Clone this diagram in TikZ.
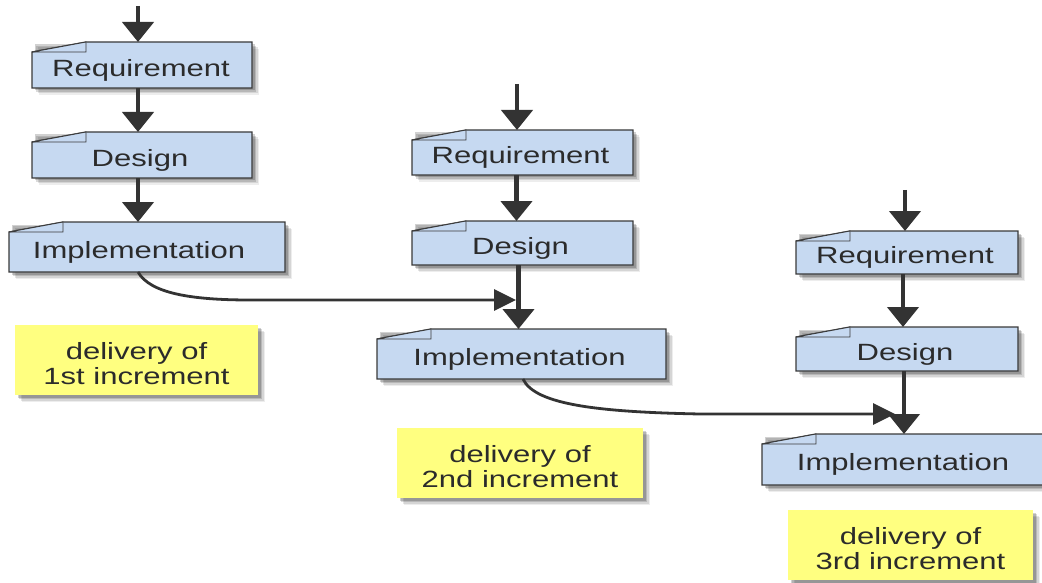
\documentclass[tikz,border=0pt]{standalone}
\usepackage{fontspec}
\setmainfont{Liberation Sans}[FakeStretch=1.32]
\usetikzlibrary{arrows.meta,backgrounds,calc}
\definecolor{boxfill}{HTML}{C6D9F1}
\definecolor{boxline}{HTML}{3A3A3A}
\definecolor{notefill}{HTML}{FFFF80}
\definecolor{arrowc}{HTML}{333333}
\definecolor{txt}{HTML}{2B2B2B}
\newcommand\softshadow[1]{%
  \foreach \d/\o in {7/0.07,5.5/0.1,4/0.14,2.5/0.18}{%
    \fill[black,opacity=\o] ($(#1.south west)+(\d pt,-\d pt)$) rectangle ($(#1.north east)+(\d pt,-\d pt)$);}}
\newcommand\foldframe[1]{%
  \path[fill=boxfill, draw=boxline, line width=1.3pt]
    ($(#1.north west)+(0pt,-10pt)$) -- ($(#1.north west)+(54pt,0pt)$) -- (#1.north east) -- (#1.south east) -- (#1.south west) -- cycle;
  \draw[boxline, line width=0.9pt, fill=boxfill]
    ($(#1.north west)+(0pt,-10pt)$) -- ($(#1.north west)+(54pt,-10pt)$) -- ($(#1.north west)+(54pt,0pt)$) -- cycle;}
\tikzset{
  stage/.style={rectangle, draw=none, outer sep=0pt, inner sep=0pt, anchor=north west, text=txt,
    font=\fontsize{23.5pt}{24pt}\selectfont},
  note/.style={rectangle, draw=none, fill=notefill, outer sep=0pt, inner sep=0pt, anchor=north west,
    text=txt, align=center, minimum width=245pt, minimum height=70pt,
    font=\fontsize{23.5pt}{24pt}\selectfont},
  varrow/.style={draw=arrowc, line width=4.5pt, -{Triangle[length=20pt,width=31pt]}},
  carrow/.style={draw=arrowc, line width=2.8pt, -{Triangle[length=22pt,width=21pt]}},
}
% #1 = text, #2 = extra room at right (moves the text left by half of it)
\newcommand\lowered[2]{\raisebox{-5pt}[\height][\depth]{#1}\kern#2}
\begin{document}
\begin{tikzpicture}[x=1pt,y=-1pt]
\useasboundingbox (0,0) rectangle (1042,583);
% column 1
\node[stage, minimum width=220pt, minimum height=46pt] (req1) at (32,42) {\lowered{Requirement}{2pt}};
\node[stage, minimum width=220pt, minimum height=46pt] (des1) at (32,132) {\lowered{Design}{4pt}};
\node[stage, minimum width=276pt, minimum height=50pt] (imp1) at (9,222) {\lowered{Implementation}{16pt}};
% column 2
\node[stage, minimum width=221pt, minimum height=45pt] (req2) at (412,130) {\lowered{Requirement}{4pt}};
\node[stage, minimum width=221pt, minimum height=44pt] (des2) at (412,221) {\lowered{Design}{4pt}};
\node[stage, minimum width=289pt, minimum height=50pt] (imp2) at (377,329) {\lowered{Implementation}{4pt}};
% column 3
\node[stage, minimum width=222pt, minimum height=43pt] (req3) at (796,231) {\lowered{Requirement}{4pt}};
\node[stage, minimum width=222pt, minimum height=44pt] (des3) at (796,327) {\lowered{Design}{4pt}};
\node[stage, minimum width=290pt, minimum height=51pt] (imp3) at (762,434) {\lowered{Implementation}{8pt}};
% notes
\node[note, minimum width=243pt] (n1) at (15,325) {\raisebox{-4pt}[\height][\depth]{\shortstack{delivery of\\1st increment}}};
\node[note, minimum width=246pt] (n2) at (397,428) {\raisebox{-4pt}[\height][\depth]{\shortstack{delivery of\\2nd increment}}};
\node[note, minimum width=245pt] (n3) at (788,510) {\raisebox{-4pt}[\height][\depth]{\shortstack{delivery of\\3rd increment}}};
\begin{pgfonlayer}{background}
  \foreach \n in {req1,des1,imp1,req2,des2,imp2,req3,des3,imp3,n1,n2,n3}{\softshadow{\n}}
  \foreach \n in {req1,des1,imp1,req2,des2,imp2,req3,des3,imp3}{\foldframe{\n}}
  \foreach \n in {n1,n2,n3}{\fill[notefill] (\n.south west) rectangle (\n.north east);}
\end{pgfonlayer}
% vertical arrows
\coordinate (in1) at (138,6);
\coordinate (in2) at (517,84);
\coordinate (in3) at (905,190);
\draw[varrow] (in1) -- (in1 |- req1.north);
\draw[varrow] ([xshift=-4pt]req1.south) -- ([xshift=-4pt]req1.south |- des1.north);
\draw[varrow] ([xshift=-4pt]des1.south) -- ([xshift=-4pt]des1.south |- imp1.north);
\draw[varrow] (in2) -- (in2 |- req2.north);
\draw[varrow] ([xshift=-6pt]req2.south) -- ([xshift=-6pt]req2.south |- des2.north);
\draw[varrow] ([xshift=-4pt]des2.south) -- ([xshift=-4pt]des2.south |- imp2.north);
\draw[varrow] (in3) -- (in3 |- req3.north);
\draw[varrow] ([xshift=-4pt]req3.south) -- ([xshift=-4pt]req3.south |- des3.north);
\draw[varrow] ([xshift=-3pt]des3.south) -- ([xshift=-3pt]des3.south |- imp3.north);
% delivery arrows
\coordinate (m1) at (516,300);
\coordinate (m2) at (895,414);
\draw[carrow] ($(imp1.south)+(-9pt,0pt)$) .. controls (150,293) and (190,300) .. (250,300) -- (m1);
\draw[carrow] ($(imp2.south)+(1.5pt,0pt)$) .. controls (535,405) and (600,412) .. (700,414) -- (m2);
\end{tikzpicture}
\end{document}
